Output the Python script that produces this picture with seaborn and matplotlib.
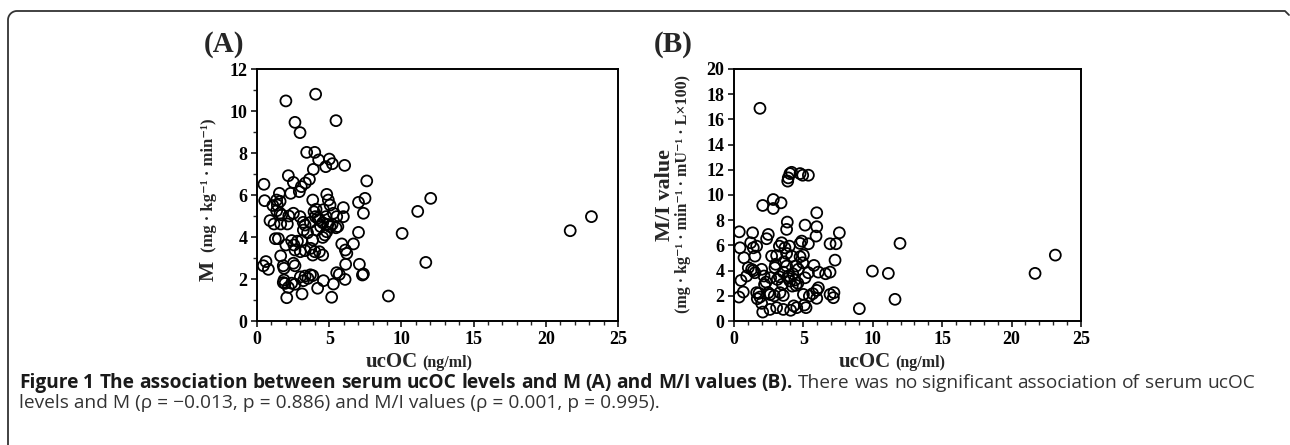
import numpy as np
import pandas as pd
import matplotlib
matplotlib.use('Agg')
import matplotlib.pyplot as plt
from matplotlib.ticker import MultipleLocator
from matplotlib.lines import Line2D
import seaborn as sns

# panel A : ucOC vs M
ucoc_a = [2.0, 4.06, 2.63, 2.98, 5.47, 3.44, 4.0, 4.27, 5.01, 5.22, 4.76, 3.9, 6.07,
          3.63, 3.35, 3.07, 2.93, 2.52, 2.17, 2.33, 7.6, 0.48, 0.53, 1.55, 1.36, 1.41,
          1.36, 1.6, 0.9, 1.18, 1.64, 2.1, 1.71, 2.52, 2.98, 1.27, 1.48, 2.0, 2.4, 2.56,
          2.63, 3.09, 3.33, 3.21, 3.33, 3.86, 3.95, 4.09, 4.04, 4.32, 4.55, 4.78, 4.83,
          4.94, 5.06, 5.29, 5.52, 5.47, 5.06, 4.55, 4.83, 4.13, 3.86, 3.72, 3.86, 4.32,
          4.55, 5.98, 5.98, 5.87, 6.12, 6.22, 6.68, 7.03, 7.03, 7.48, 7.37, 6.14, 7.09,
          7.3, 7.37, 6.1, 5.7, 5.52, 5.29, 5.17, 4.6, 4.2, 3.86, 3.53, 3.33, 3.21, 3.12,
          2.63, 2.17, 2.06, 1.94, 1.82, 1.87, 1.64, 1.82, 1.87, 2.52, 2.63, 0.44, 0.62,
          0.79, 9.1, 10.05, 11.13, 11.69, 12.03, 21.69, 23.16,
          4.2, 4.4, 3.7, 5.2, 4.6, 3.2, 2.8, 2.2, 1.1, 3.0, 3.7, 3.0, 2.4, 4.9, 5.6, 4.0,
          1.6, 3.5, 4.7]
m_vals = [10.48, 10.8, 9.46, 8.97, 9.54, 8.03, 8.03, 7.67, 7.71, 7.49, 7.35, 7.22, 7.41,
          6.75, 6.57, 6.4, 6.16, 6.6, 6.92, 6.08, 6.67, 6.51, 5.73, 6.08, 5.76, 5.52,
          5.25, 5.13, 4.78, 4.62, 4.62, 4.62, 5.05, 5.13, 4.97, 3.92, 3.92, 3.62, 3.83, 3.62,
          3.38, 3.83, 3.35, 4.33, 4.57, 5.76, 5.2, 5.32, 4.97, 4.81, 4.68, 4.97, 6.03,
          5.76, 5.52, 5.13, 4.97, 4.44, 4.49, 3.98, 4.25, 4.33, 3.86, 3.46, 3.14, 3.3,
          3.14, 5.4, 4.97, 3.67, 3.38, 3.22, 3.67, 4.22, 5.65, 5.84, 5.13, 2.7, 2.7,
          2.19, 2.24, 1.98, 2.22, 2.3, 1.76, 1.13, 1.92, 1.56, 2.16, 2.03, 2.14, 1.92, 1.29,
          1.75, 1.6, 1.11, 1.79, 1.83, 1.95, 3.1, 2.63, 2.51, 2.75, 2.63, 2.63, 2.83,
          2.46, 1.19, 4.17, 5.22, 2.79, 5.84, 4.3, 4.97,
          4.9, 4.5, 4.7, 4.6, 5.3, 4.7, 3.8, 5.0, 5.5, 3.3, 2.2, 2.1, 1.8, 4.6, 4.5, 3.3,
          5.7, 4.2, 4.1]

# panel B : ucOC vs M/I
ucoc_b = [1.87, 3.91, 4.03, 4.15, 4.76, 4.95, 5.36, 3.87, 2.07, 2.83, 2.83, 3.39, 3.84,
          3.79, 5.12, 5.96, 5.96, 5.91, 5.36, 4.88, 4.76, 7.59, 6.92, 7.35, 7.28, 6.92,
          6.6, 6.08, 5.76, 6.08, 5.96, 5.96, 5.67, 5.43, 5.07, 5.19, 4.52, 4.08, 5.0,
          6.92, 7.2, 7.16, 0.38, 0.43, 0.72, 1.34, 1.2, 1.39, 1.63, 1.51, 1.03, 1.27,
          1.51, 0.91, 0.5, 0.67, 0.36, 1.63, 1.68, 1.87, 1.99, 2.07, 1.99, 2.16, 2.31,
          2.47, 2.59, 3.07, 3.55, 3.31, 3.55, 2.47, 2.35, 2.71, 3.07, 3.27, 3.43, 3.67,
          3.79, 3.99, 4.15, 2.95, 3.27, 3.55, 3.79, 3.91, 4.03, 4.23, 4.39, 4.47, 4.63,
          4.76, 5.0, 4.95, 5.12, 5.36, 4.2, 4.47, 2.64, 3.12, 3.48, 9.03, 9.97, 11.12,
          11.96, 11.6, 21.69, 23.15,
          3.6, 4.6, 2.9, 2.2, 3.0, 4.3, 1.8, 2.6, 3.9, 1.4]
mi_vals = [16.88, 11.36, 11.7, 11.8, 11.7, 11.57, 11.57, 11.1, 9.17, 9.64, 8.93, 9.38, 7.85,
           7.27, 7.61, 8.59, 7.48, 6.74, 6.13, 6.34, 6.16, 7.0, 6.13, 6.13, 4.83, 3.88,
           3.75, 3.88, 4.41, 2.64, 2.43, 1.8, 2.17, 1.98, 1.27, 1.06, 1.06, 0.85, 2.11,
           2.11, 2.25, 1.85, 7.08, 5.81, 5.02, 7.0, 6.21, 5.81, 5.94, 5.15, 4.23, 4.1,
           3.83, 3.57, 3.22, 2.3, 1.9, 2.25, 1.77, 1.9, 1.4, 0.71, 4.1, 3.57, 3.09,
           2.25, 0.92, 1.06, 0.92, 2.25, 2.03, 6.87, 6.53, 5.15, 5.2, 5.94, 6.21, 5.81,
           5.36, 5.94, 5.15, 4.23, 3.51, 3.88, 4.36, 3.57, 3.17, 3.75, 3.25, 4.36, 4.1,
           5.1, 5.23, 4.62, 3.43, 3.83, 2.77, 2.83, 3.43, 3.3, 2.91, 0.98, 3.96, 3.78,
           6.16, 1.72, 3.78, 5.23,
           4.7, 3.0, 2.0, 2.9, 4.5, 1.2, 2.2, 2.1, 3.4, 4.0]

caption_bold = 'Figure 1 The association between serum ucOC levels and M (A) and M/I values (B).'
caption_line1 = 'There was no significant association of serum ucOC'
caption_line2 = 'levels and M (ρ = −0.013, p = 0.886) and M/I values (ρ = 0.001, p = 0.995).'

df_a = pd.DataFrame({'ucOC': ucoc_a, 'M': m_vals})
df_b = pd.DataFrame({'ucOC': ucoc_b, 'MI': mi_vals})

sns.set_style('ticks')
plt.rcParams['font.family'] = ['Liberation Serif', 'DejaVu Serif']

W, H = 1290, 445
fig = plt.figure(figsize=(W / 100, H / 100), dpi=100)

def fx(x):
    return x / W

def fy(y):
    return 1 - y / H

ax_a = fig.add_axes([fx(257), fy(321), fx(618 - 257), (321 - 69) / H])
ax_b = fig.add_axes([fx(734), fy(321), fx(1081 - 734), (321 - 69) / H])

pt = dict(s=62, facecolors='none', edgecolors='black', linewidths=1.3, marker='o')
sns.scatterplot(data=df_a, x='ucOC', y='M', ax=ax_a, **pt)
sns.scatterplot(data=df_b, x='ucOC', y='MI', ax=ax_b, **pt)

for ax, ytop, ystep, yminor in [(ax_a, 12, 2, 1), (ax_b, 20, 2, None)]:
    ax.set_xlim(0, 25)
    ax.set_ylim(0, ytop)
    ax.xaxis.set_major_locator(MultipleLocator(5))
    ax.xaxis.set_minor_locator(MultipleLocator(1))
    ax.yaxis.set_major_locator(MultipleLocator(ystep))
    if yminor:
        ax.yaxis.set_minor_locator(MultipleLocator(yminor))
    ax.tick_params(which='major', direction='out', length=4, width=1.1,
                   labelsize=13, pad=3, colors='black')
    ax.tick_params(which='minor', direction='out', length=3, width=1.0)
    for lab in ax.get_xticklabels() + ax.get_yticklabels():
        lab.set_fontweight('bold')
    for sp in ax.spines.values():
        sp.set_visible(True)
        sp.set_linewidth(1.4)
        sp.set_color('black')
    ax.set_xlabel('')
    ax.set_ylabel('')

# y labels
ax_a.text(-0.133, 0.198, 'M', transform=ax_a.transAxes, rotation=90,
          ha='center', va='center', fontsize=15.5, fontweight='bold')
ax_a.text(-0.133, 0.54, '(mg · kg⁻¹ · min⁻¹)', transform=ax_a.transAxes, rotation=90,
          ha='center', va='center', fontsize=12, fontweight='bold')
ax_b.text(-0.199, 0.5, 'M/I value', transform=ax_b.transAxes, rotation=90,
          ha='center', va='center', fontsize=16, fontweight='bold')
ax_b.text(-0.147, 0.505, '(mg · kg⁻¹ · min⁻¹ · mU⁻¹ · L×100)', transform=ax_b.transAxes,
          rotation=90, ha='center', va='center', fontsize=11.5, fontweight='bold')

# x labels
for split in (420, 893):
    fig.text(fx(split - 2), fy(362), 'ucOC', ha='right', va='center',
             fontsize=15, fontweight='bold')
    fig.text(fx(split + 2), fy(363), '(ng/ml)', ha='left', va='center',
             fontsize=11.5, fontweight='bold')

# panel letters
fig.text(fx(224), fy(45), '(A)', ha='center', va='center', fontsize=21, fontweight='bold')
fig.text(fx(673), fy(45), '(B)', ha='center', va='center', fontsize=21, fontweight='bold')

# caption, first line justified to the right edge
cap_font = ['Open Sans', 'DejaVu Sans']
cap_size = 13.8
rend = fig.canvas.get_renderer()
words = [(w, 'bold', '#1a1a1a') for w in caption_bold.split()] + \
        [(w, 'normal', '#333333') for w in caption_line1.split()]
arts = []
for w, wt, col in words:
    t = fig.text(0, fy(383), w, ha='left', va='center', fontsize=cap_size,
                 fontweight=wt, family=cap_font, color=col)
    arts.append((t, t.get_window_extent(rend).width))
x_start, x_end = 19, 1255
gap = (x_end - x_start - sum(wd for _, wd in arts)) / (len(arts) - 1)
xpos = x_start
for t, wd in arts:
    t.set_x(fx(xpos))
    xpos += wd + gap
fig.text(fx(19), fy(403), caption_line2, ha='left', va='center', fontsize=cap_size,
         family=cap_font, color='#333333')

# rounded frame at top-left
r = 9
ang = np.linspace(np.pi, np.pi / 2, 20)
xs = [8] + list(8 + r + r * np.cos(ang)) + [1285, 1289]
ys = [446] + list(11 + r - r * np.sin(ang)) + [11, 15]
fig.add_artist(Line2D([fx(v) for v in xs], [fy(v) for v in ys],
                      transform=fig.transFigure, color='#333333', lw=1.3))

fig.savefig('out.png', dpi=100)
